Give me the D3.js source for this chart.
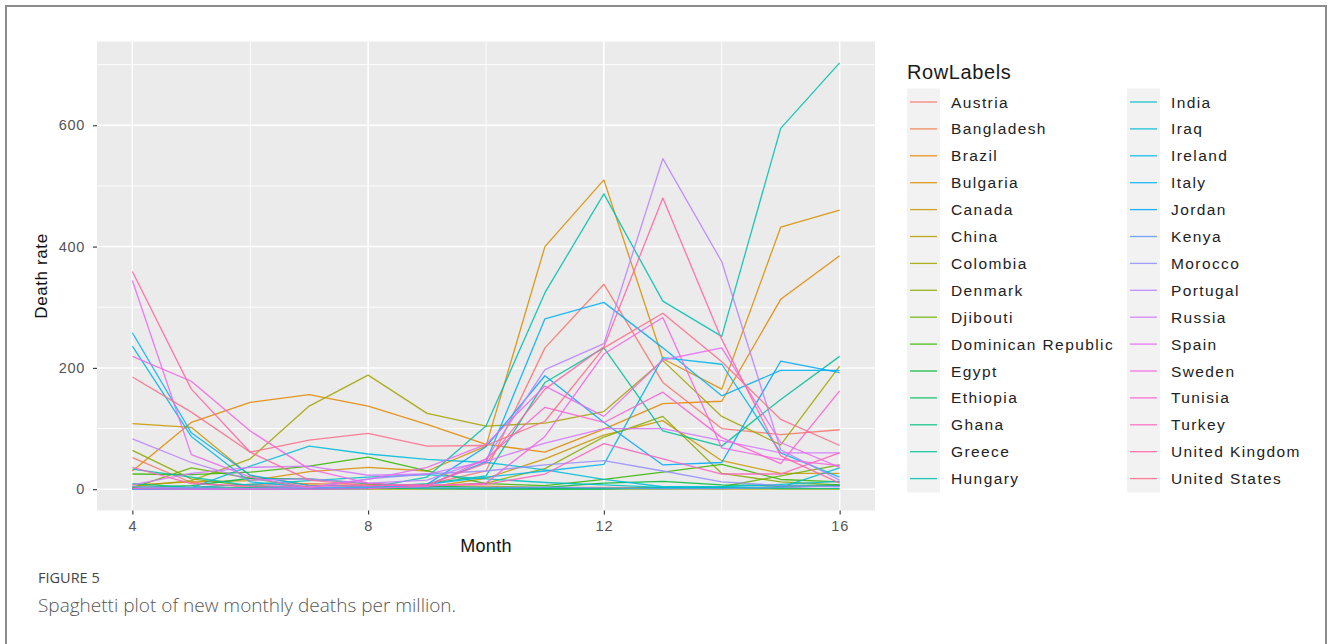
<!DOCTYPE html>
<html>
<head>
<meta charset="utf-8">
<script src="https://cdn.jsdelivr.net/npm/d3@7"></script>
<style>
  html, body { margin: 0; padding: 0; background: #fff; }
  svg { display: block; }
</style>
</head>
<body>
<svg id="chart" width="1330" height="644"></svg>
<script>
// Month index (4 = April 2020 ... 16 = April 2021)
const months = [4, 5, 6, 7, 8, 9, 10, 11, 12, 13, 14, 15, 16];

// New monthly deaths per million, one array per country
const austria           = [52, 11, 3, 2, 2, 8, 30, 233, 338, 176, 100, 90, 98];
const bangladesh        = [1, 3, 8, 9, 8, 6, 5, 3, 3, 2, 1, 3, 6];
const brazil            = [30, 110, 143, 156, 137, 107, 74, 61, 99, 141, 145, 313, 385];
const bulgaria          = [7, 12, 14, 29, 36, 30, 71, 400, 510, 215, 165, 432, 460];
const canada            = [108, 102, 22, 7, 4, 3, 18, 50, 89, 113, 47, 26, 26];
const china             = [1, 0, 0, 0, 0, 0, 0, 0, 0, 0, 0, 0, 0];
const colombia          = [4, 14, 50, 137, 188, 125, 104, 109, 128, 212, 120, 73, 203];
const denmark           = [64, 17, 5, 2, 2, 5, 10, 34, 86, 120, 26, 12, 7];
const djibouti          = [2, 35, 18, 3, 1, 1, 1, 1, 1, 2, 4, 22, 40];
const dominicanRepublic = [25, 24, 28, 38, 53, 30, 9, 6, 16, 28, 41, 16, 12];
const egypt             = [3, 6, 18, 17, 9, 5, 3, 3, 10, 13, 7, 6, 7];
const ethiopia          = [0, 0, 1, 1, 2, 2, 1, 1, 1, 1, 2, 4, 6];
const ghana             = [0, 1, 2, 3, 2, 1, 0, 0, 0, 3, 3, 1, 1];
const greece            = [9, 3, 2, 1, 3, 9, 22, 176, 233, 96, 71, 148, 219];
const hungary           = [33, 20, 6, 2, 2, 20, 104, 324, 487, 310, 252, 595, 703];
const india             = [0, 3, 8, 14, 20, 24, 17, 11, 7, 3, 2, 3, 35];
const iraq              = [1, 2, 38, 71, 58, 49, 44, 32, 16, 4, 4, 8, 13];
const ireland           = [236, 87, 12, 3, 2, 8, 20, 30, 41, 217, 206, 60, 20];
const italy             = [258, 93, 23, 6, 6, 7, 45, 281, 308, 233, 154, 196, 196];
const jordan            = [0, 0, 0, 0, 1, 8, 70, 187, 110, 40, 44, 211, 192];
const kenya             = [0, 0, 1, 2, 4, 2, 2, 3, 2, 1, 1, 3, 5];
const morocco           = [4, 2, 1, 3, 17, 25, 30, 40, 47, 30, 12, 6, 4];
const portugal          = [83, 44, 15, 17, 10, 15, 49, 197, 240, 545, 375, 65, 15];
const russia            = [7, 26, 36, 38, 23, 25, 46, 76, 100, 100, 80, 60, 60];
const spain             = [344, 57, 20, 2, 16, 36, 74, 170, 120, 213, 233, 77, 36];
const sweden            = [219, 178, 96, 33, 10, 5, 10, 87, 223, 283, 68, 49, 39];
const tunisia           = [1, 0, 0, 0, 1, 5, 50, 135, 110, 160, 85, 42, 162];
const turkey            = [36, 9, 5, 5, 6, 7, 8, 25, 75, 50, 25, 25, 60];
const unitedKingdom     = [359, 165, 61, 15, 6, 7, 43, 165, 235, 480, 247, 55, 10];
const unitedStates      = [185, 127, 61, 81, 92, 71, 72, 112, 233, 290, 210, 115, 72];

const countries = [
  "Austria", "Bangladesh", "Brazil", "Bulgaria", "Canada", "China", "Colombia",
  "Denmark", "Djibouti", "Dominican Republic", "Egypt", "Ethiopia", "Ghana",
  "Greece", "Hungary", "India", "Iraq", "Ireland", "Italy", "Jordan", "Kenya",
  "Morocco", "Portugal", "Russia", "Spain", "Sweden", "Tunisia", "Turkey",
  "United Kingdom", "United States"
];
const seriesValues = [
  austria, bangladesh, brazil, bulgaria, canada, china, colombia,
  denmark, djibouti, dominicanRepublic, egypt, ethiopia, ghana,
  greece, hungary, india, iraq, ireland, italy, jordan, kenya,
  morocco, portugal, russia, spain, sweden, tunisia, turkey,
  unitedKingdom, unitedStates
];

const xTicks = [4, 8, 12, 16];
const yTicks = [0, 200, 400, 600];
const xMinor = [6, 10, 14];
const yMinor = [100, 300, 500, 700];

const legendTitle = "RowLabels";
const xTitle = "Month";
const yTitle = "Death rate";
const figureLabel = "FIGURE 5";
const figureCaption = "Spaghetti plot of new monthly deaths per million.";

// Polar LUV -> sRGB (same formula as R's grDevices::hcl)
function hclLuv(h, c, l) {
  const WY = 100, Wu = 0.1978398, Wv = 0.4683363;
  const hr = h * Math.PI / 180;
  const U = c * Math.cos(hr), V = c * Math.sin(hr);
  const Y = WY * (l > 7.999592 ? Math.pow((l + 16) / 116, 3) : l / 903.3);
  const u = U / (13 * l) + Wu, v = V / (13 * l) + Wv;
  const X = 9.0 * Y * u / (4 * v);
  const Z = -X / 3 - 5 * Y + 3 * Y / v;
  const g = t => t > 0.00304 ? 1.055 * Math.pow(t, 1 / 2.4) - 0.055 : 12.92 * t;
  const cl = t => Math.round(255 * Math.max(0, Math.min(1, t)));
  const r = g(( 3.240479 * X - 1.537150 * Y - 0.498535 * Z) / WY);
  const gg = g((-0.969256 * X + 1.875992 * Y + 0.041556 * Z) / WY);
  const b = g(( 0.055648 * X - 0.204043 * Y + 1.057311 * Z) / WY);
  return d3.rgb(cl(r), cl(gg), cl(b)).formatHex();
}
const n = countries.length;
const palette = d3.range(n).map(i => hclLuv(15 + i * (360 / n), 100, 65));
const color = d3.scaleOrdinal().domain(countries).range(palette);

const svg = d3.select("#chart");

// outer frame
svg.append("rect")
  .attr("x", 6).attr("y", 6).attr("width", 1320).attr("height", 700)
  .attr("fill", "#fff").attr("stroke", "#8c8c8c").attr("stroke-width", 2);

const panel = { left: 97, right: 875, top: 41.5, bottom: 510.5 };

const allValues = seriesValues.flat();
const yMax = d3.max(allValues), yMin = 0;
const yPad = (yMax - yMin) * 0.05;
const xPad = (d3.max(months) - d3.min(months)) * 0.05;

const x = d3.scaleLinear()
  .domain([d3.min(months) - xPad, d3.max(months) + xPad])
  .range([panel.left, panel.right]);
const y = d3.scaleLinear()
  .domain([yMin - yPad, yMax + yPad])
  .range([panel.bottom, panel.top]);

// panel background
svg.append("rect")
  .attr("x", panel.left).attr("y", panel.top)
  .attr("width", panel.right - panel.left).attr("height", panel.bottom - panel.top)
  .attr("fill", "#ebebeb");

const grid = svg.append("g");
grid.selectAll("line.ymin").data(yMinor).join("line")
  .attr("x1", panel.left).attr("x2", panel.right)
  .attr("y1", d => y(d)).attr("y2", d => y(d))
  .attr("stroke", "#fff").attr("stroke-width", 0.9);
grid.selectAll("line.xmin").data(xMinor).join("line")
  .attr("y1", panel.top).attr("y2", panel.bottom)
  .attr("x1", d => x(d)).attr("x2", d => x(d))
  .attr("stroke", "#fff").attr("stroke-width", 0.9);
grid.selectAll("line.ymaj").data(yTicks).join("line")
  .attr("x1", panel.left).attr("x2", panel.right)
  .attr("y1", d => y(d)).attr("y2", d => y(d))
  .attr("stroke", "#fff").attr("stroke-width", 1.5);
grid.selectAll("line.xmaj").data(xTicks).join("line")
  .attr("y1", panel.top).attr("y2", panel.bottom)
  .attr("x1", d => x(d)).attr("x2", d => x(d))
  .attr("stroke", "#fff").attr("stroke-width", 1.5);

// spaghetti lines
const line = d3.line()
  .x((d, i) => x(months[i]))
  .y(d => y(d));

svg.append("g")
  .selectAll("path")
  .data(seriesValues.map((vals, i) => ({ name: countries[i], vals })))
  .join("path")
  .attr("d", d => line(d.vals))
  .attr("fill", "none")
  .attr("stroke", d => color(d.name))
  .attr("stroke-opacity", 0.88)
  .attr("stroke-width", 1.3)
  .attr("stroke-linejoin", "round");

// axes
const axisFont = "'Liberation Sans', Arial, sans-serif";
const yAxis = svg.append("g")
  .attr("transform", `translate(${panel.left},0)`)
  .call(d3.axisLeft(y).tickValues(yTicks).tickSize(4).tickPadding(8));
const xAxis = svg.append("g")
  .attr("transform", `translate(0,${panel.bottom})`)
  .call(d3.axisBottom(x).tickValues(xTicks).tickSize(4).tickPadding(6));
[yAxis, xAxis].forEach(a => {
  a.select(".domain").remove();
  a.selectAll(".tick line").attr("stroke", "#333").attr("stroke-width", 1.1);
  a.selectAll(".tick text")
    .attr("fill", "#555")
    .style("font-family", axisFont)
    .style("font-size", "14.5px")
    .style("letter-spacing", "0.7px");
});

svg.append("text")
  .attr("x", (panel.left + panel.right) / 2).attr("y", 552)
  .attr("text-anchor", "middle")
  .style("font-family", axisFont).style("font-size", "18px")
  .style("letter-spacing", "0.3px")
  .attr("fill", "#111")
  .text(xTitle);

svg.append("text")
  .attr("transform", `translate(47,${(panel.top + panel.bottom) / 2}) rotate(-90)`)
  .attr("text-anchor", "middle")
  .style("font-family", axisFont).style("font-size", "17px")
  .style("letter-spacing", "0.6px")
  .attr("fill", "#111")
  .text(yTitle);

// legend
const legend = svg.append("g");
legend.append("text")
  .attr("x", 907).attr("y", 79)
  .style("font-family", axisFont).style("font-size", "20px")
  .style("letter-spacing", "0.6px")
  .attr("fill", "#1a1a1a")
  .text(legendTitle);

const perCol = 15;
const rowH = 26.9;
const colX = [907, 1127];
const firstRowY = 102;

const items = legend.selectAll("g.item")
  .data(countries)
  .join("g")
  .attr("transform", (d, i) => {
    const col = Math.floor(i / perCol), row = i % perCol;
    return `translate(${colX[col]},${firstRowY + row * rowH})`;
  });
items.append("rect")
  .attr("x", 0).attr("y", -rowH / 2)
  .attr("width", 33).attr("height", rowH + 0.5)
  .attr("fill", "#f2f2f2");
items.append("line")
  .attr("x1", 3).attr("x2", 30)
  .attr("stroke", d => color(d)).attr("stroke-opacity", 0.88).attr("stroke-width", 1.3);
items.append("text")
  .attr("x", 44).attr("dy", "0.36em")
  .style("font-family", axisFont).style("font-size", "15.5px")
  .style("letter-spacing", "1.4px")
  .attr("fill", "#222")
  .text(d => d);

// figure caption
svg.append("text")
  .attr("x", 38).attr("y", 583)
  .style("font-family", "'Open Sans', sans-serif").style("font-size", "14.5px")
  .attr("fill", "#444")
  .text(figureLabel);
svg.append("text")
  .attr("x", 38).attr("y", 612)
  .style("font-family", "'Open Sans', sans-serif").style("font-size", "19px")
  .style("font-weight", 300)
  .attr("fill", "#555")
  .text(figureCaption);
</script>
</body>
</html>
